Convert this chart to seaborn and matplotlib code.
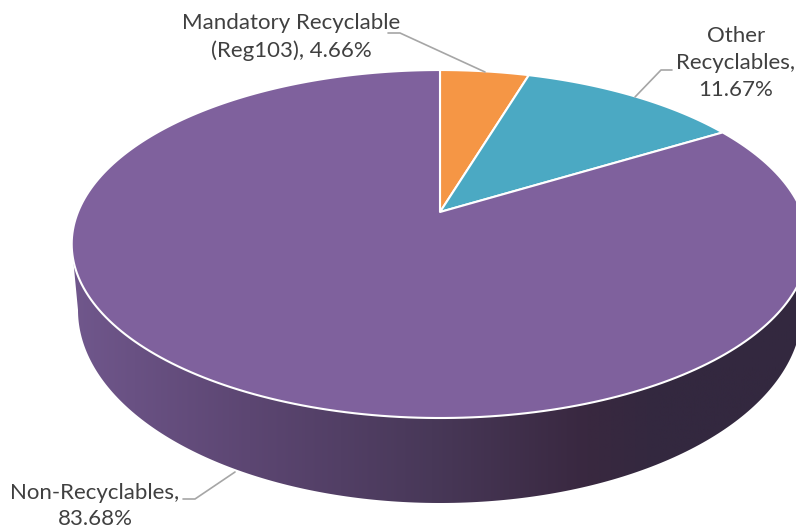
import numpy as np
import matplotlib
matplotlib.use("Agg")
import matplotlib.pyplot as plt
import seaborn as sns
from matplotlib.colors import LinearSegmentedColormap
from matplotlib.patches import PathPatch, Polygon
from matplotlib.path import Path
from matplotlib.transforms import Affine2D

# Chart values
shares = [4.66, 11.67, 83.68]
slice_colors = ["#F59645", "#4BA9C3", "#7F619D"]
label_texts = [
    "Mandatory Recyclable\n(Reg103), {:.2f}%",
    "Other\nRecyclables,\n{:.2f}%",
    "Non-Recyclables,\n{:.2f}%",
]
label_spots = [(291, 37), (736, 63), (95, 506)]
leader_lines = [
    [(388, 33), (400, 33), (485, 72)],
    [(672, 70), (661, 70), (635, 97)],
    [(183, 499), (195, 499), (235, 472)],
]

# Side wall shading, left to right
side_colors = ["#70578C", "#5C4672", "#483858", "#392840", "#33283F", "#33283F"]
side_stops = [0.0, 0.24, 0.49, 0.70, 0.80, 1.0]

sns.set_theme(style="white")
plt.rcParams["font.family"] = ["Lato", "DejaVu Sans"]


# Tilted disc: maps the unit circle of the pie to pixels, with perspective
def tilt(xy):
    x, y = xy[:, 0], xy[:, 1]
    w = 1 + 0.184 * y
    return np.column_stack([440 + 362 * x / w, 212 - 168.1 * y / w])


fig = plt.figure(figsize=(7.96, 5.31), dpi=100)
ax = fig.add_axes([0, 0, 1, 1])

wedges, _ = ax.pie(shares, colors=slice_colors, startangle=90, counterclock=False)

# Side wall first, the top face goes over it
t = np.linspace(0, 2 * np.pi, 400)
rim = tilt(np.column_stack([np.cos(t), np.sin(t)]))
t2 = np.linspace(np.pi, 2 * np.pi, 200)
lower = np.column_stack([440 + 362 * np.cos(t2), 310 - 193 * np.sin(t2)])
wall = Polygon(np.vstack([[rim[:, 0].min(), 244], lower, [rim[:, 0].max(), 244]]),
               closed=True, facecolor="none", edgecolor="none")
ax.add_patch(wall)

cmap = LinearSegmentedColormap.from_list("side", list(zip(side_stops, side_colors)))
im = ax.imshow(np.linspace(0, 1, 256).reshape(1, -1), cmap=cmap, aspect="auto",
               extent=(72, 808, 510, 230), zorder=1)
im.set_clip_path(wall)

# Top face
for wedge, color in zip(wedges, slice_colors):
    poly = wedge.get_path().to_polygons(Affine2D().scale(1000), closed_only=True)[0] / 1000
    wedge.remove()
    ax.add_patch(PathPatch(Path(tilt(poly)), facecolor=color, edgecolor="white",
                           linewidth=1.5, zorder=2, joinstyle="round"))

# Labels with leader lines
for text, spot, share, line in zip(label_texts, label_spots, shares, leader_lines):
    ax.text(spot[0], spot[1], text.format(share), ha="center", va="center",
            fontsize=16, color="#404040", linespacing=1.42, zorder=4)
    ax.plot(*zip(*line), color="#A6A6A6", linewidth=1.2, zorder=3)

ax.set_xlim(0, 796)
ax.set_ylim(531, 0)
ax.set_aspect("auto")
ax.axis("off")

fig.savefig("out.png", dpi=100, facecolor="white")
